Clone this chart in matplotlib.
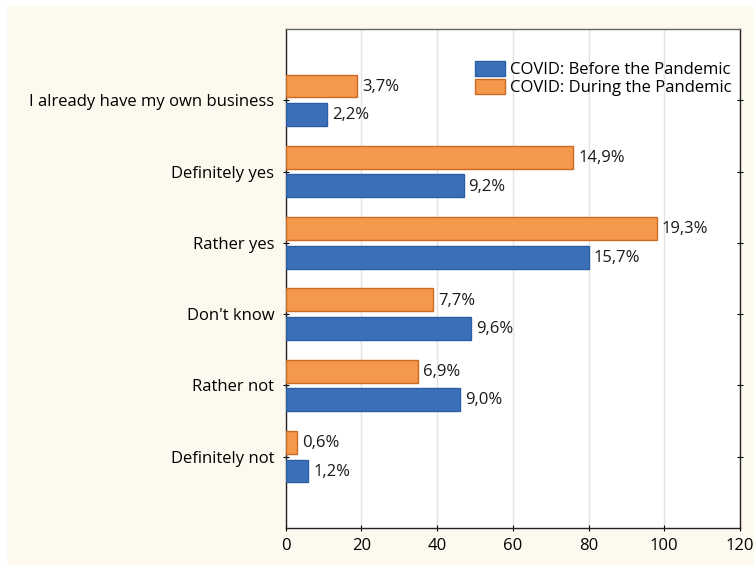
import numpy as np
import matplotlib.pyplot as plt
from matplotlib.patches import Rectangle

plt.rcParams['font.family'] = ['Open Sans', 'DejaVu Sans']

categories = ["I already have my own business", "Definitely yes", "Rather yes",
              "Don't know", "Rather not", "Definitely not"]
before_counts = [11, 47, 80, 49, 46, 6]
during_counts = [19, 76, 98, 39, 35, 3]
before_pct = ["2,2%", "9,2%", "15,7%", "9,6%", "9,0%", "1,2%"]
during_pct = ["3,7%", "14,9%", "19,3%", "7,7%", "6,9%", "0,6%"]
series_names = ["COVID: Before the Pandemic", "COVID: During the Pandemic"]

blue, blue_edge = '#3b70b9', '#2d5da3'
orange, orange_edge = '#f4994c', '#cf6a25'

fig = plt.figure(figsize=(7.54, 5.65), dpi=100, facecolor='white')
# cream page background
fig.patches.append(Rectangle((7 / 754, 0), 1, 1 - 6 / 565, transform=fig.transFigure,
                             facecolor='#fdf9ef', edgecolor='none', zorder=-10))

ax = fig.add_axes([285.5 / 754, 37 / 565, 454.5 / 754, 499 / 565])
ax.set_facecolor('white')

y = np.arange(len(categories))
h = 0.32
b1 = ax.barh(y + 0.2, before_counts, height=h, color=blue, edgecolor=blue_edge,
             linewidth=1, label=series_names[0], zorder=3)
b2 = ax.barh(y - 0.2, during_counts, height=h, color=orange, edgecolor=orange_edge,
             linewidth=1, label=series_names[1], zorder=3)

for i in range(len(categories)):
    ax.text(before_counts[i] + 1.3, y[i] + 0.21, before_pct[i], va='center',
            ha='left', fontsize=12, color='#1a1a1a')
    ax.text(during_counts[i] + 1.3, y[i] - 0.19, during_pct[i], va='center',
            ha='left', fontsize=12, color='#1a1a1a')

ax.set_xlim(0, 120)
ax.set_ylim(6.0, -1.0)
ax.set_xticks(np.arange(0, 121, 20))
ax.set_yticks(y)
ax.set_yticklabels(categories, fontsize=12)
ax.tick_params(axis='x', labelsize=12, direction='inout', length=4, top=False, pad=5)
ax.tick_params(axis='y', direction='inout', length=4, right=True, pad=6)
ax.grid(axis='x', color='#e3e3e3', linewidth=1, zorder=0)
for s in ax.spines.values():
    s.set_color('#222222')
    s.set_linewidth(1)
ax.spines['top'].set_color('#666666')

ax.legend(loc='upper right', bbox_to_anchor=(1.0, 0.953), frameon=False, fontsize=12,
          handlelength=1.8, handleheight=1.0, handletextpad=0.3,
          labelspacing=0.05, borderaxespad=0.1)

fig.savefig('out.png', dpi=100, facecolor=fig.get_facecolor())
